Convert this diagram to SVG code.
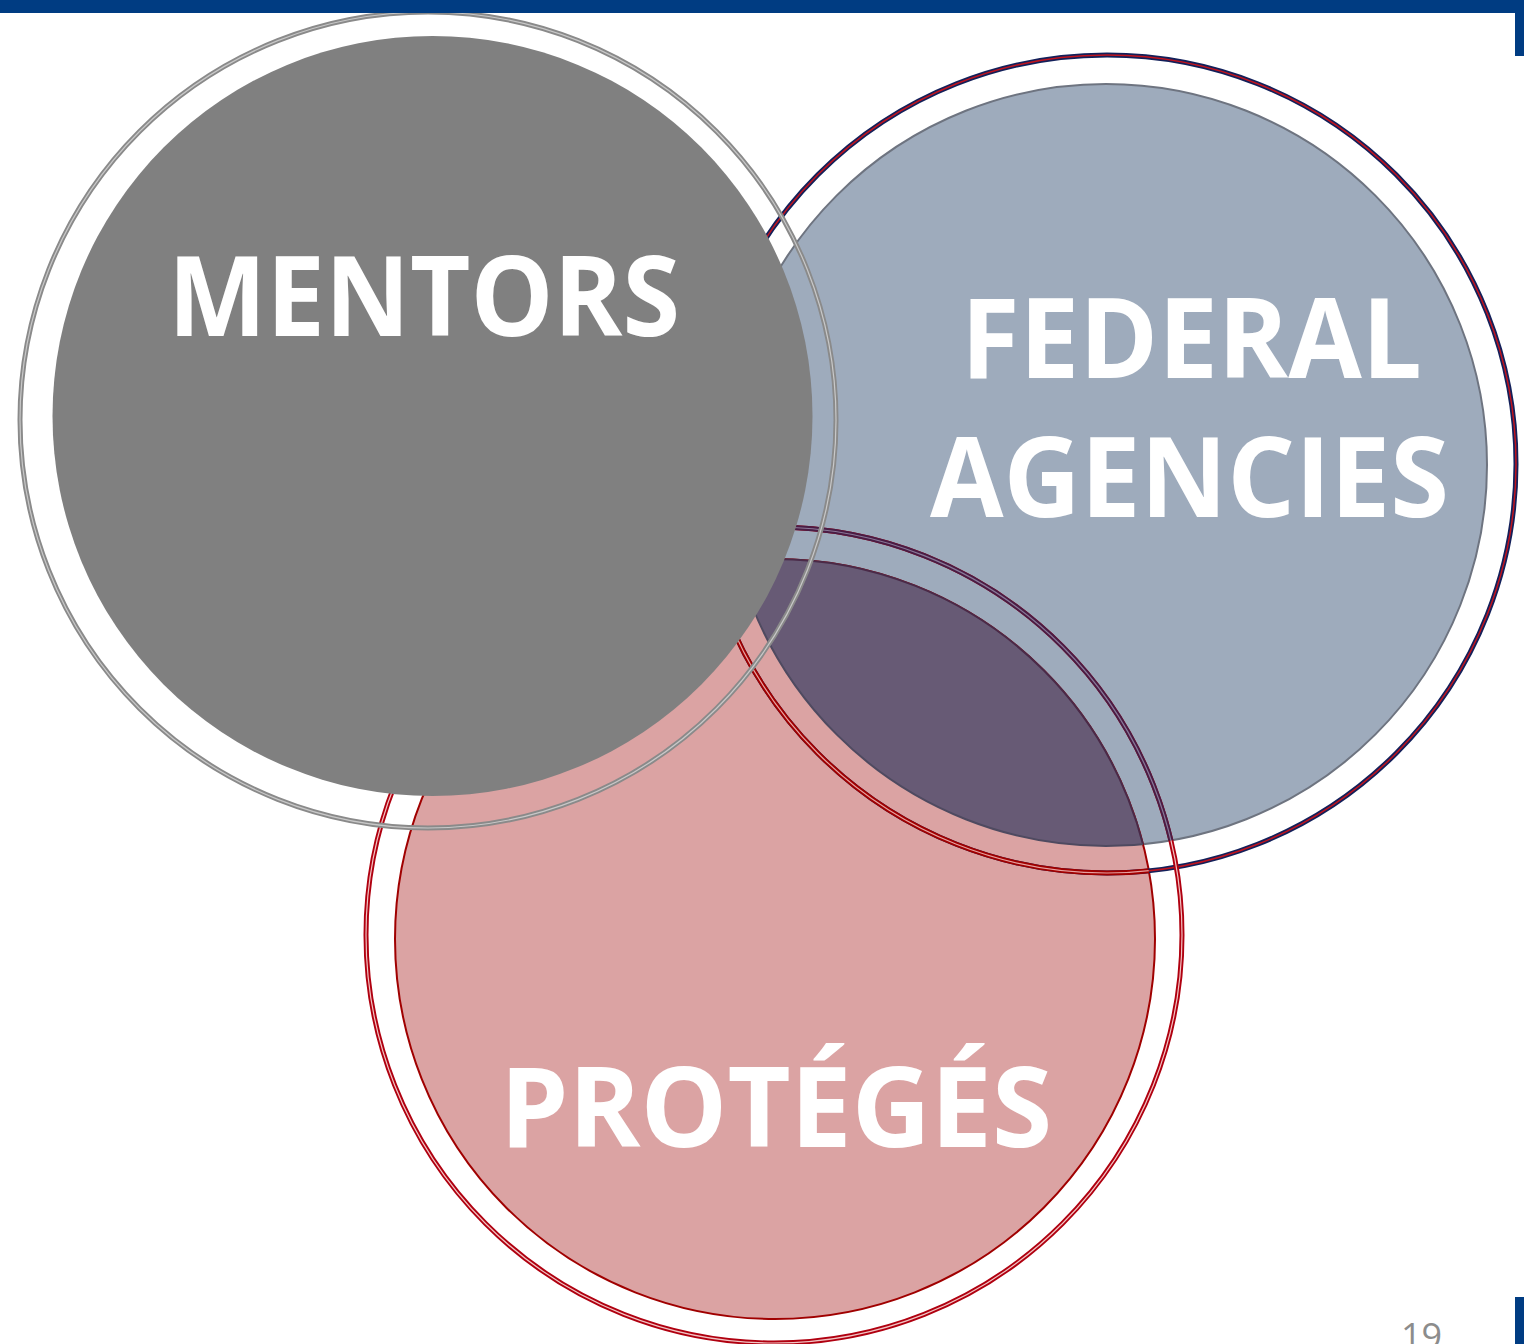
<svg xmlns="http://www.w3.org/2000/svg" width="1524" height="1344" viewBox="0 0 1524 1344">
<style>
.lbl{font-family:"Open Sans","Noto Sans","Liberation Sans",sans-serif;font-weight:700;font-size:112px;fill:#ffffff}
.pg{font-family:"Open Sans","Liberation Sans",sans-serif;font-size:36px;fill:#8c8c8c}
</style>
<defs>
<clipPath id="inFed"><circle cx="1106" cy="465" r="381"/></clipPath>
<clipPath id="inPro"><circle cx="775" cy="939" r="380"/></clipPath>
</defs>
<rect x="0" y="0" width="1524" height="1344" fill="#ffffff"/>

<g id="federal-fill">
<circle cx="1106" cy="465" r="381" fill="#9eabbc" stroke="#6e7480" stroke-width="2"/>
</g>
<g id="proteges-fill">
<circle cx="775" cy="939" r="380" fill="#dba3a3" stroke="#a00000" stroke-width="2"/>
</g>
<g id="overlap">
<circle cx="775" cy="939" r="380" fill="#675a75" stroke="#4a2a48" stroke-width="2" clip-path="url(#inFed)"/>
<circle cx="1106" cy="465" r="381" fill="none" stroke="#4f4a60" stroke-width="2" clip-path="url(#inPro)"/>
</g>
<g id="federal-ring">
<circle cx="1107" cy="464" r="409" fill="none" stroke="#13205a" stroke-width="5"/>
<circle cx="1107" cy="464" r="409" fill="none" stroke="#c0141e" stroke-width="1.5"/>
<g clip-path="url(#inPro)">
<circle cx="1107" cy="464" r="409" fill="none" stroke="#a00000" stroke-width="5"/>
<circle cx="1107" cy="464" r="409" fill="none" stroke="#e7a0a0" stroke-width="1.2"/>
</g>
</g>
<g id="proteges-ring">
<circle cx="774" cy="935" r="408" fill="none" stroke="#b00010" stroke-width="5"/>
<circle cx="774" cy="935" r="408" fill="none" stroke="#f2c4c4" stroke-width="1.2"/>
<g clip-path="url(#inFed)">
<circle cx="774" cy="935" r="408" fill="none" stroke="#4a1c44" stroke-width="5"/>
<circle cx="774" cy="935" r="408" fill="none" stroke="#8a7898" stroke-width="1.2"/>
</g>
</g>
<g id="mentors">
<circle cx="432.5" cy="416" r="380" fill="#808080"/>
<circle cx="428" cy="420" r="408" fill="none" stroke="#8a8a8a" stroke-width="5"/>
<circle cx="428" cy="420" r="408" fill="none" stroke="#c8c8c8" stroke-width="1.2"/>
</g>

<g id="bars" fill="#003c82">
<rect x="0" y="0" width="1524" height="13"/>
<rect x="1515" y="0" width="9" height="56"/>
<rect x="1515" y="1297" width="9" height="47"/>
</g>

<g id="labels">
<text class="lbl" x="168" y="336" textLength="512" lengthAdjust="spacingAndGlyphs">MENTORS</text>
<text class="lbl" x="961" y="378" textLength="461" lengthAdjust="spacingAndGlyphs">FEDERAL</text>
<text class="lbl" x="930" y="517" textLength="519" lengthAdjust="spacingAndGlyphs">AGENCIES</text>
<text class="lbl" x="500" y="1147" textLength="552" lengthAdjust="spacingAndGlyphs">PROTÉGÉS</text>
<text class="pg" x="1401" y="1349">19</text>
</g>
</svg>
